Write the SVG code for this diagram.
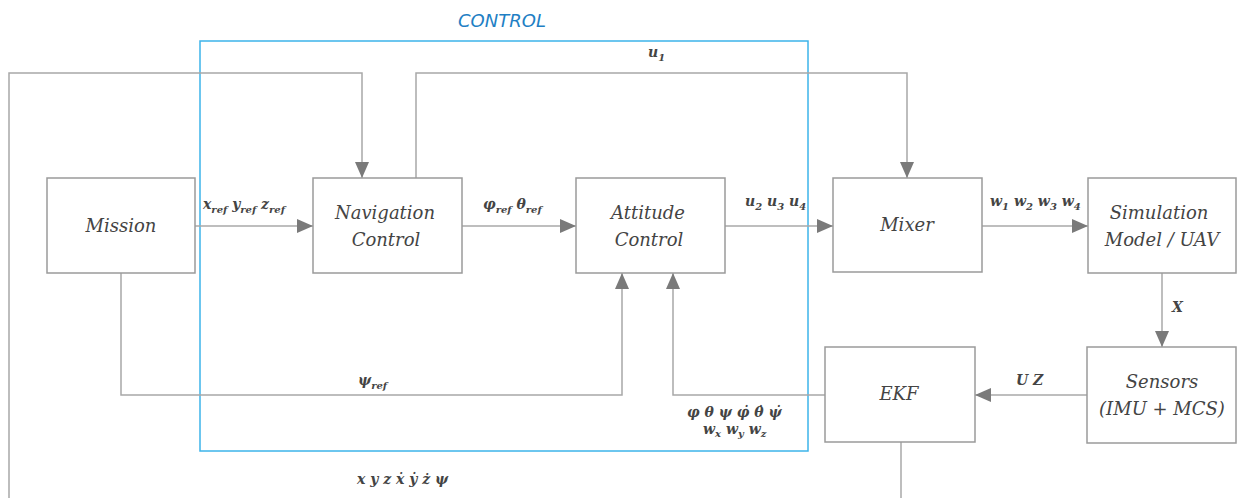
<svg xmlns="http://www.w3.org/2000/svg" width="1238" height="498" viewBox="0 0 1238 498">
<defs>
<marker id="ah" markerUnits="userSpaceOnUse" markerWidth="16" markerHeight="14" refX="16" refY="7" orient="auto">
<path d="M0,0 L16,7 L0,14 z" fill="#7a7a7a"/>
</marker>
<style>
.box{fill:#fff;stroke:#9a9a9a;stroke-width:1.5}
.lbl{font-family:"DejaVu Serif","Liberation Serif",serif;font-style:italic;font-size:18px;fill:#444;text-anchor:middle}
.m{font-family:"DejaVu Serif","Liberation Serif",serif;font-style:italic;font-size:14px;fill:#444;font-weight:bold}
.s{font-size:10px}
.c{fill:none;stroke:#a8a8a8;stroke-width:1.5}
.a{marker-end:url(#ah)}
</style>
</defs>
<rect width="1238" height="498" fill="#fff"/>
<g id="control-frame">
<rect x="200" y="41" width="608" height="410" fill="none" stroke="#3db4ea" stroke-width="1.5"/>
<text x="502" y="27" font-family="DejaVu Sans,'Liberation Sans',sans-serif" font-style="italic" font-size="18" fill="#1f7fc4" text-anchor="middle">CONTROL</text>
</g>
<g id="connectors">
<polyline class="c a" points="9,498 9,73 362,73 362,178"/>
<polyline class="c a" points="416,178 416,73 907,73 907,178"/>
<line class="c a" x1="195" y1="226" x2="313" y2="226"/>
<line class="c a" x1="462" y1="226" x2="576" y2="226"/>
<line class="c a" x1="725" y1="226" x2="833" y2="226"/>
<line class="c a" x1="982" y1="226" x2="1088" y2="226"/>
<line class="c a" x1="1162" y1="273" x2="1162" y2="347"/>
<line class="c a" x1="1087" y1="395" x2="975" y2="395"/>
<polyline class="c a" points="825,395 673,395 673,273"/>
<polyline class="c a" points="121,273 121,395 622,395 622,273"/>
<line class="c" x1="901" y1="442" x2="901" y2="498"/>
<text class="m" x="203" y="209">x<tspan class="s" dy="4">ref</tspan><tspan dy="-4"> y</tspan><tspan class="s" dy="4">ref</tspan><tspan dy="-4"> z</tspan><tspan class="s" dy="4">ref</tspan></text>
<text class="m" x="483" y="209">φ<tspan class="s" dy="4">ref</tspan><tspan dy="-4"> θ</tspan><tspan class="s" dy="4">ref</tspan></text>
<text class="m" x="745" y="206">u<tspan class="s" dy="4">2</tspan><tspan dy="-4"> u</tspan><tspan class="s" dy="4">3</tspan><tspan dy="-4"> u</tspan><tspan class="s" dy="4">4</tspan></text>
<text class="m" x="990" y="206">w<tspan class="s" dy="4">1</tspan><tspan dy="-4"> w</tspan><tspan class="s" dy="4">2</tspan><tspan dy="-4"> w</tspan><tspan class="s" dy="4">3</tspan><tspan dy="-4"> w</tspan><tspan class="s" dy="4">4</tspan></text>
<text class="m" x="648" y="57">u<tspan class="s" dy="4">1</tspan></text>
<text class="m" x="1172" y="312">X</text>
<text class="m" x="1016" y="385">U Z</text>
<text class="m" x="358" y="385">ψ<tspan class="s" dy="4">ref</tspan></text>
<text class="m" x="687" y="417">φ θ ψ φ̇ θ̇ ψ̇</text>
<text class="m" x="703" y="434">w<tspan class="s" dy="3">x</tspan><tspan dy="-3"> w</tspan><tspan class="s" dy="3">y</tspan><tspan dy="-3"> w</tspan><tspan class="s" dy="3">z</tspan></text>
<text class="m" x="357" y="484">x y z ẋ ẏ ż ψ</text>
</g>
<g id="mission"><rect class="box" x="47" y="178" width="148" height="95"/><text class="lbl" x="121" y="232">Mission</text></g>
<g id="navigation"><rect class="box" x="313" y="178" width="149" height="95"/><text class="lbl" x="385" y="219">Navigation</text><text class="lbl" x="386" y="246">Control</text></g>
<g id="attitude"><rect class="box" x="576" y="178" width="149" height="95"/><text class="lbl" x="648" y="219">Attitude</text><text class="lbl" x="649" y="246">Control</text></g>
<g id="mixer"><rect class="box" x="833" y="178" width="149" height="94"/><text class="lbl" x="907" y="231">Mixer</text></g>
<g id="simulation"><rect class="box" x="1088" y="178" width="148" height="95"/><text class="lbl" x="1159" y="219">Simulation</text><text class="lbl" x="1162" y="246">Model / UAV</text></g>
<g id="sensors"><rect class="box" x="1087" y="347" width="149" height="96"/><text class="lbl" x="1162" y="388">Sensors</text><text class="lbl" x="1162" y="415">(IMU + MCS)</text></g>
<g id="ekf"><rect class="box" x="825" y="347" width="150" height="95"/><text class="lbl" x="899" y="400">EKF</text></g>
</svg>
